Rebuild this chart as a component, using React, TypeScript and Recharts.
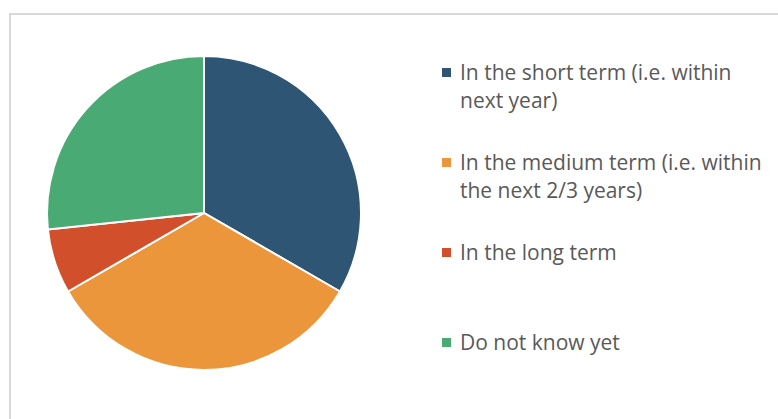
import { Cell, Legend, Pie, PieChart } from "recharts"

const categories = [
  "In the short term (i.e. within next year)",
  "In the medium term (i.e. within the next 2/3 years)",
  "In the long term",
  "Do not know yet",
]
const shares = [10, 10, 2, 8]
const colors = ["#2e5573", "#eb963b", "#d24f2b", "#4aaa73"]

const data = categories.map((name, i) => ({ name, value: shares[i], color: colors[i] }))

function LegendList() {
  return (
    <div style={{ width: 330 }}>
      {data.map((d) => (
        <div key={d.name} style={{ height: 90, display: "flex", alignItems: "flex-start" }}>
          <span
            style={{
              width: 9,
              height: 9,
              background: d.color,
              marginTop: 10,
              marginRight: 9,
              flexShrink: 0,
            }}
          />
          <span style={{ fontSize: 21, lineHeight: "28px", color: "#595959", width: 312 }}>{d.name}</span>
        </div>
      ))}
    </div>
  )
}

export default function App() {
  return (
    <div style={{ position: "relative", width: 778, height: 419, overflow: "hidden", background: "#fff", fontFamily: "'Open Sans', sans-serif" }}>
      <style>{`body{margin:0}`}</style>
      <div
        style={{
          position: "absolute",
          left: 9,
          top: 13,
          width: 800,
          height: 440,
          border: "2px solid #d9d9d9",
          boxSizing: "border-box",
        }}
      />
      <PieChart width={778} height={419} margin={{ top: 0, right: 0, bottom: 0, left: 0 }} style={{ position: "absolute", left: 0, top: 0 }}>
        <Pie
          data={data}
          dataKey="value"
          nameKey="name"
          cx={204}
          cy={213}
          outerRadius={157}
          startAngle={90}
          endAngle={-270}
          stroke="#ffffff"
          strokeWidth={2}
          isAnimationActive={false}
        >
          {data.map((d) => (
            <Cell key={d.name} fill={d.color} />
          ))}
        </Pie>
        <Legend
          layout="vertical"
          content={() => <LegendList />}
          wrapperStyle={{ position: "absolute", left: 442, top: 58, width: 336 }}
        />
      </PieChart>
    </div>
  )
}
